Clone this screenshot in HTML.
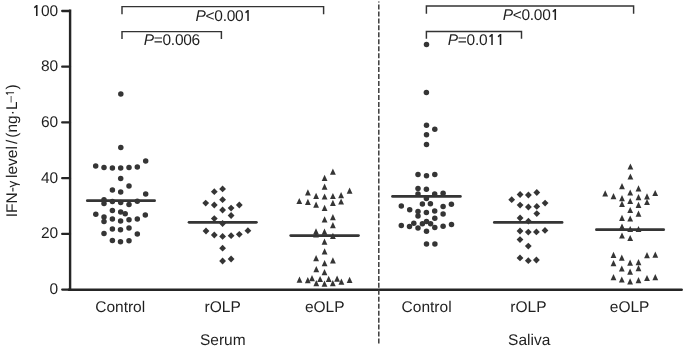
<!DOCTYPE html>
<html><head><meta charset="utf-8"><title>IFN-gamma levels</title>
<style>
html,body{margin:0;padding:0;background:#fff;}
body{width:685px;height:350px;overflow:hidden;}
svg{display:block;}
.t{font-family:"Liberation Sans", Arial, Helvetica, sans-serif;font-size:15.5px;fill:#1f1f1f;text-rendering:geometricPrecision;}
.yt{font-family:"Liberation Sans", Arial, Helvetica, sans-serif;font-size:15.5px;fill:#1f1f1f;text-rendering:geometricPrecision;}
.n1{font-family:"NanumGothic","Liberation Sans",sans-serif;font-size:14.65px;font-weight:bold;}
</style></head><body>
<svg width="685" height="350" viewBox="0 0 685 350" fill="#353535">
<line x1="70.1" y1="9.6" x2="70.1" y2="290.6" stroke="#252525" stroke-width="2.4"/>
<line x1="68.9" y1="289.7" x2="681.7" y2="289.7" stroke="#252525" stroke-width="2.5" stroke-linecap="round"/>
<line x1="62.2" y1="289.6" x2="70" y2="289.6" stroke="#252525" stroke-width="2.3" stroke-linecap="round"/>
<line x1="62.2" y1="233.88" x2="70" y2="233.88" stroke="#252525" stroke-width="2.3" stroke-linecap="round"/>
<line x1="62.2" y1="178.16" x2="70" y2="178.16" stroke="#252525" stroke-width="2.3" stroke-linecap="round"/>
<line x1="62.2" y1="122.44" x2="70" y2="122.44" stroke="#252525" stroke-width="2.3" stroke-linecap="round"/>
<line x1="62.2" y1="66.72" x2="70" y2="66.72" stroke="#252525" stroke-width="2.3" stroke-linecap="round"/>
<line x1="62.2" y1="11" x2="70" y2="11" stroke="#252525" stroke-width="2.3" stroke-linecap="round"/>
<text transform="translate(58.2,294.15)" text-anchor="end" class="t">0</text>
<text transform="translate(58.2,238.43)" text-anchor="end" class="t">20</text>
<text transform="translate(58.2,182.71)" text-anchor="end" class="t">40</text>
<text transform="translate(58.2,126.99)" text-anchor="end" class="t">60</text>
<text transform="translate(58.2,71.27)" text-anchor="end" class="t">80</text>
<text transform="translate(58.2,15.55)" text-anchor="end" class="t"><tspan class="n1">1</tspan>00</text>
<line x1="378.8" y1="1.6" x2="378.8" y2="345" stroke="#3c3c3c" stroke-width="1.5" stroke-dasharray="5 1.96" stroke-dashoffset="4.1"/>
<line x1="87.3" y1="200.65" x2="154.6" y2="200.65" stroke="#353535" stroke-width="2.7" stroke-linecap="round"/>
<line x1="189" y1="222.35" x2="256.4" y2="222.35" stroke="#353535" stroke-width="2.7" stroke-linecap="round"/>
<line x1="290.7" y1="235.55" x2="358.5" y2="235.55" stroke="#353535" stroke-width="2.7" stroke-linecap="round"/>
<line x1="392.5" y1="196.45" x2="460.4" y2="196.45" stroke="#353535" stroke-width="2.7" stroke-linecap="round"/>
<line x1="494.3" y1="222.45" x2="562.1" y2="222.45" stroke="#353535" stroke-width="2.7" stroke-linecap="round"/>
<line x1="596.4" y1="229.65" x2="663.7" y2="229.65" stroke="#353535" stroke-width="2.7" stroke-linecap="round"/>
<circle cx="120.8" cy="94" r="2.75"/>
<circle cx="120.8" cy="147.6" r="2.75"/>
<circle cx="145.7" cy="161" r="2.75"/>
<circle cx="95.7" cy="166.1" r="2.75"/>
<circle cx="104" cy="167.4" r="2.75"/>
<circle cx="112.4" cy="167.9" r="2.75"/>
<circle cx="120.7" cy="168.1" r="2.75"/>
<circle cx="129" cy="167.4" r="2.75"/>
<circle cx="137.3" cy="167.1" r="2.75"/>
<circle cx="120.7" cy="178.6" r="2.75"/>
<circle cx="129" cy="186" r="2.75"/>
<circle cx="112.4" cy="189.9" r="2.75"/>
<circle cx="120.7" cy="191.9" r="2.75"/>
<circle cx="145.7" cy="193.9" r="2.75"/>
<circle cx="104" cy="199.8" r="2.75"/>
<circle cx="112.4" cy="201.4" r="2.75"/>
<circle cx="137.3" cy="201.3" r="2.75"/>
<circle cx="120.7" cy="202.6" r="2.75"/>
<circle cx="104" cy="203.4" r="2.75"/>
<circle cx="129" cy="204.4" r="2.75"/>
<circle cx="112.4" cy="210.4" r="2.75"/>
<circle cx="120.7" cy="211.9" r="2.75"/>
<circle cx="125.2" cy="213.7" r="2.75"/>
<circle cx="95.8" cy="214.3" r="2.75"/>
<circle cx="145.3" cy="215" r="2.75"/>
<circle cx="104" cy="216.9" r="2.75"/>
<circle cx="112.4" cy="218.9" r="2.75"/>
<circle cx="137.3" cy="218.9" r="2.75"/>
<circle cx="129" cy="219.8" r="2.75"/>
<circle cx="120.6" cy="221.1" r="2.75"/>
<circle cx="104" cy="221.5" r="2.75"/>
<circle cx="129" cy="227.9" r="2.75"/>
<circle cx="112.4" cy="229" r="2.75"/>
<circle cx="120.5" cy="229.8" r="2.75"/>
<circle cx="104" cy="233.4" r="2.75"/>
<circle cx="137.3" cy="233.9" r="2.75"/>
<circle cx="112.4" cy="240.6" r="2.75"/>
<circle cx="120.5" cy="241.7" r="2.75"/>
<circle cx="129" cy="240.8" r="2.75"/>
<circle cx="426.5" cy="44.6" r="2.75"/>
<circle cx="426.4" cy="92.4" r="2.75"/>
<circle cx="426.5" cy="125.3" r="2.75"/>
<circle cx="434.8" cy="129.3" r="2.75"/>
<circle cx="426.5" cy="134.7" r="2.75"/>
<circle cx="426.5" cy="144.4" r="2.75"/>
<circle cx="418" cy="174.4" r="2.75"/>
<circle cx="426.5" cy="175.7" r="2.75"/>
<circle cx="434.8" cy="174.4" r="2.75"/>
<circle cx="418" cy="188.6" r="2.75"/>
<circle cx="426.4" cy="189.3" r="2.75"/>
<circle cx="418" cy="194.1" r="2.75"/>
<circle cx="434.7" cy="194.1" r="2.75"/>
<circle cx="443.1" cy="193.3" r="2.75"/>
<circle cx="426.4" cy="198.4" r="2.75"/>
<circle cx="422.4" cy="204" r="2.75"/>
<circle cx="430.4" cy="203.8" r="2.75"/>
<circle cx="401.3" cy="206.1" r="2.75"/>
<circle cx="443.1" cy="206.4" r="2.75"/>
<circle cx="451.4" cy="204.3" r="2.75"/>
<circle cx="409.7" cy="209.8" r="2.75"/>
<circle cx="418" cy="211.4" r="2.75"/>
<circle cx="426.4" cy="212.4" r="2.75"/>
<circle cx="434.7" cy="211" r="2.75"/>
<circle cx="443.1" cy="214" r="2.75"/>
<circle cx="418" cy="215.9" r="2.75"/>
<circle cx="434.8" cy="218.2" r="2.75"/>
<circle cx="401.3" cy="225.4" r="2.75"/>
<circle cx="409.5" cy="226.5" r="2.75"/>
<circle cx="413.8" cy="223.2" r="2.75"/>
<circle cx="418" cy="227.9" r="2.75"/>
<circle cx="422.4" cy="223.7" r="2.75"/>
<circle cx="426.5" cy="221.5" r="2.75"/>
<circle cx="430.6" cy="223.7" r="2.75"/>
<circle cx="434.8" cy="227.4" r="2.75"/>
<circle cx="443.1" cy="226.2" r="2.75"/>
<circle cx="451.5" cy="224.6" r="2.75"/>
<circle cx="426.5" cy="231.2" r="2.75"/>
<circle cx="426.5" cy="244" r="2.75"/>
<circle cx="434.9" cy="244" r="2.75"/>
<path d="M222.6 185.5L226 188.9L222.6 192.3L219.2 188.9Z"/>
<path d="M214.3 188.3L217.7 191.7L214.3 195.1L210.9 191.7Z"/>
<path d="M222.6 196.3L226 199.7L222.6 203.1L219.2 199.7Z"/>
<path d="M205.7 199.7L209.1 203.1L205.7 206.5L202.3 203.1Z"/>
<path d="M214.3 201.6L217.7 205L214.3 208.4L210.9 205Z"/>
<path d="M239.3 201.6L242.7 205L239.3 208.4L235.9 205Z"/>
<path d="M231.1 204.7L234.5 208.1L231.1 211.5L227.7 208.1Z"/>
<path d="M222.6 206.6L226 210L222.6 213.4L219.2 210Z"/>
<path d="M231.1 212.1L234.5 215.5L231.1 218.9L227.7 215.5Z"/>
<path d="M214.3 215.2L217.7 218.6L214.3 222L210.9 218.6Z"/>
<path d="M222.6 220.1L226 223.5L222.6 226.9L219.2 223.5Z"/>
<path d="M206 227.6L209.4 231L206 234.4L202.6 231Z"/>
<path d="M247.9 227.3L251.3 230.7L247.9 234.1L244.5 230.7Z"/>
<path d="M239.3 230.9L242.7 234.3L239.3 237.7L235.9 234.3Z"/>
<path d="M214.3 231.6L217.7 235L214.3 238.4L210.9 235Z"/>
<path d="M231.1 232.3L234.5 235.7L231.1 239.1L227.7 235.7Z"/>
<path d="M222.6 233L226 236.4L222.6 239.8L219.2 236.4Z"/>
<path d="M222.6 244.8L226 248.2L222.6 251.6L219.2 248.2Z"/>
<path d="M231.1 255.6L234.5 259L231.1 262.4L227.7 259Z"/>
<path d="M222.6 257.6L226 261L222.6 264.4L219.2 261Z"/>
<path d="M536.8 189.1L540.2 192.5L536.8 195.9L533.4 192.5Z"/>
<path d="M520.1 191.1L523.5 194.5L520.1 197.9L516.7 194.5Z"/>
<path d="M528.4 191.6L531.8 195L528.4 198.4L525 195Z"/>
<path d="M511.7 196.3L515.1 199.7L511.7 203.1L508.3 199.7Z"/>
<path d="M545.1 199.7L548.5 203.1L545.1 206.5L541.7 203.1Z"/>
<path d="M520.1 201.7L523.5 205.1L520.1 208.5L516.7 205.1Z"/>
<path d="M536.8 203L540.2 206.4L536.8 209.8L533.4 206.4Z"/>
<path d="M528.4 203.6L531.8 207L528.4 210.4L525 207Z"/>
<path d="M536.8 210.2L540.2 213.6L536.8 217L533.4 213.6Z"/>
<path d="M520.1 214.6L523.5 218L520.1 221.4L516.7 218Z"/>
<path d="M528.4 217.8L531.8 221.2L528.4 224.6L525 221.2Z"/>
<path d="M545 227L548.4 230.4L545 233.8L541.6 230.4Z"/>
<path d="M520 227.6L523.4 231L520 234.4L516.6 231Z"/>
<path d="M536.4 228.5L539.8 231.9L536.4 235.3L533 231.9Z"/>
<path d="M528.3 228.7L531.7 232.1L528.3 235.5L524.9 232.1Z"/>
<path d="M520 236.2L523.4 239.6L520 243L516.6 239.6Z"/>
<path d="M528.3 242.7L531.7 246.1L528.3 249.5L524.9 246.1Z"/>
<path d="M520 254.5L523.4 257.9L520 261.3L516.6 257.9Z"/>
<path d="M536.4 256.6L539.8 260L536.4 263.4L533 260Z"/>
<path d="M528.3 257.3L531.7 260.7L528.3 264.1L524.9 260.7Z"/>
<path d="M332.9 168.5L335.8 174.7L330 174.7Z"/>
<path d="M324.6 174.8L327.5 181L321.7 181Z"/>
<path d="M324.6 183.6L327.5 189.8L321.7 189.8Z"/>
<path d="M349.6 187.6L352.5 193.8L346.7 193.8Z"/>
<path d="M307.9 189.3L310.8 195.5L305 195.5Z"/>
<path d="M316.1 192.7L319 198.9L313.2 198.9Z"/>
<path d="M324.6 193.4L327.5 199.6L321.7 199.6Z"/>
<path d="M332.9 192.9L335.8 199.1L330 199.1Z"/>
<path d="M341.1 192L344 198.2L338.2 198.2Z"/>
<path d="M299.3 197.9L302.2 204.1L296.4 204.1Z"/>
<path d="M307.9 198.8L310.8 205L305 205Z"/>
<path d="M316.1 201.5L319 207.7L313.2 207.7Z"/>
<path d="M332.9 199.8L335.8 206L330 206Z"/>
<path d="M341.1 198.4L344 204.6L338.2 204.6Z"/>
<path d="M324.6 204.8L327.5 211L321.7 211Z"/>
<path d="M332.9 214L335.8 220.2L330 220.2Z"/>
<path d="M324.6 216.2L327.5 222.4L321.7 222.4Z"/>
<path d="M332.9 222L335.8 228.2L330 228.2Z"/>
<path d="M316 228.2L318.9 234.4L313.1 234.4Z"/>
<path d="M316 231.4L318.9 237.6L313.1 237.6Z"/>
<path d="M324.5 228.5L327.4 234.7L321.6 234.7Z"/>
<path d="M332.9 232.7L335.8 238.9L330 238.9Z"/>
<path d="M324.5 238.5L327.4 244.7L321.6 244.7Z"/>
<path d="M324.6 248.3L327.5 254.5L321.7 254.5Z"/>
<path d="M316.1 255L319 261.2L313.2 261.2Z"/>
<path d="M332.9 257.2L335.8 263.4L330 263.4Z"/>
<path d="M324.6 260L327.5 266.2L321.7 266.2Z"/>
<path d="M316.3 266L319.2 272.2L313.4 272.2Z"/>
<path d="M324.5 269L327.4 275.2L321.6 275.2Z"/>
<path d="M299.5 276.6L302.4 282.8L296.6 282.8Z"/>
<path d="M307.8 277L310.7 283.2L304.9 283.2Z"/>
<path d="M312 275L314.9 281.2L309.1 281.2Z"/>
<path d="M320.1 275.9L323 282.1L317.2 282.1Z"/>
<path d="M328.7 275.7L331.6 281.9L325.8 281.9Z"/>
<path d="M337.1 275.5L340 281.7L334.2 281.7Z"/>
<path d="M341.4 278.6L344.3 284.8L338.5 284.8Z"/>
<path d="M349.6 276.8L352.5 283L346.7 283Z"/>
<path d="M316.3 280L319.2 286.2L313.4 286.2Z"/>
<path d="M324.5 280.5L327.4 286.7L321.6 286.7Z"/>
<path d="M332.8 280L335.7 286.2L329.9 286.2Z"/>
<path d="M630.4 163.4L633.3 169.6L627.5 169.6Z"/>
<path d="M630.4 173.4L633.3 179.6L627.5 179.6Z"/>
<path d="M622 183L624.9 189.2L619.1 189.2Z"/>
<path d="M638.5 185.2L641.4 191.4L635.6 191.4Z"/>
<path d="M630.2 189.4L633.1 195.6L627.3 195.6Z"/>
<path d="M605.2 190.2L608.1 196.4L602.3 196.4Z"/>
<path d="M655.2 189.9L658.1 196.1L652.3 196.1Z"/>
<path d="M613.5 193.1L616.4 199.3L610.6 199.3Z"/>
<path d="M647 193.2L649.9 199.4L644.1 199.4Z"/>
<path d="M638.5 194.1L641.4 200.3L635.6 200.3Z"/>
<path d="M622 195.1L624.9 201.3L619.1 201.3Z"/>
<path d="M630.2 197.9L633.1 204.1L627.3 204.1Z"/>
<path d="M647 198.9L649.9 205.1L644.1 205.1Z"/>
<path d="M622 200.7L624.9 206.9L619.1 206.9Z"/>
<path d="M638.5 201.7L641.4 207.9L635.6 207.9Z"/>
<path d="M630.2 206.9L633.1 213.1L627.3 213.1Z"/>
<path d="M638.5 210.6L641.4 216.8L635.6 216.8Z"/>
<path d="M622 214.7L624.9 220.9L619.1 220.9Z"/>
<path d="M630.2 215.4L633.1 221.6L627.3 221.6Z"/>
<path d="M622 223.4L624.9 229.6L619.1 229.6Z"/>
<path d="M630.2 225.9L633.1 232.1L627.3 232.1Z"/>
<path d="M638.5 225.9L641.4 232.1L635.6 232.1Z"/>
<path d="M622 232.4L624.9 238.6L619.1 238.6Z"/>
<path d="M630.2 234.9L633.1 241.1L627.3 241.1Z"/>
<path d="M613.5 251.8L616.4 258L610.6 258Z"/>
<path d="M621.8 254.5L624.7 260.7L618.9 260.7Z"/>
<path d="M647 252.1L649.9 258.3L644.1 258.3Z"/>
<path d="M655.3 251.5L658.2 257.7L652.4 257.7Z"/>
<path d="M613.5 260.1L616.4 266.3L610.6 266.3Z"/>
<path d="M630.1 259.6L633 265.8L627.2 265.8Z"/>
<path d="M638.5 259.1L641.4 265.3L635.6 265.3Z"/>
<path d="M621.8 265.4L624.7 271.6L618.9 271.6Z"/>
<path d="M638.5 265.1L641.4 271.3L635.6 271.3Z"/>
<path d="M630.1 268.6L633 274.8L627.2 274.8Z"/>
<path d="M613.5 274L616.4 280.2L610.6 280.2Z"/>
<path d="M621.8 276.4L624.7 282.6L618.9 282.6Z"/>
<path d="M630.1 278.2L633 284.4L627.2 284.4Z"/>
<path d="M638.5 277.1L641.4 283.3L635.6 283.3Z"/>
<path d="M647 274.9L649.9 281.1L644.1 281.1Z"/>
<path d="M655.3 274L658.2 280.2L652.4 280.2Z"/>
<path d="M122 14.3V6.6H323.6V14.3" fill="none" stroke="#333333" stroke-width="1.45"/>
<path d="M122 39V31.6H221.4V39" fill="none" stroke="#333333" stroke-width="1.45"/>
<path d="M426.4 13.7V5.9H633.6V13.7" fill="none" stroke="#333333" stroke-width="1.45"/>
<path d="M426.4 38.7V31.4H521.5V38.7" fill="none" stroke="#333333" stroke-width="1.45"/>
<text transform="translate(223.7,20.65)" text-anchor="middle" class="t" letter-spacing="-0.3"><tspan font-style="italic">P</tspan>&lt;0.00<tspan class="n1">1</tspan></text>
<text transform="translate(171.8,45.1)" text-anchor="middle" class="t" letter-spacing="-0.3"><tspan font-style="italic">P</tspan>=0.006</text>
<text transform="translate(530.9,19.85)" text-anchor="middle" class="t" letter-spacing="-0.3"><tspan font-style="italic">P</tspan>&lt;0.00<tspan class="n1">1</tspan></text>
<text transform="translate(476.1,45.1)" text-anchor="middle" class="t" letter-spacing="-0.3"><tspan font-style="italic">P</tspan>=0.0<tspan class="n1">1</tspan><tspan class="n1">1</tspan></text>
<text transform="translate(120.2,312.1)" text-anchor="middle" class="t">Control</text>
<text transform="translate(222.7,312.1)" text-anchor="middle" class="t">rOLP</text>
<text transform="translate(324.7,312.1)" text-anchor="middle" class="t">eOLP</text>
<text transform="translate(426.6,312.1)" text-anchor="middle" class="t">Control</text>
<text transform="translate(528.4,312.1)" text-anchor="middle" class="t">rOLP</text>
<text transform="translate(629.6,312.1)" text-anchor="middle" class="t">eOLP</text>
<text transform="translate(222.8,345.1)" text-anchor="middle" class="t">Serum</text>
<text transform="translate(529.2,345.1)" text-anchor="middle" class="t">Saliva</text>
<text transform="translate(17,0) rotate(-90)" class="yt"><tspan x="-217.25">IFN-</tspan><tspan x="-187.6" font-size="13.5">&#947;</tspan><tspan x="-178">level</tspan><tspan x="-143.9">/</tspan><tspan x="-137.7">(ng&#183;L</tspan><tspan x="-102.6" dy="-3.3" font-size="11.5">&#8211;<tspan class="n1" style="font-size:10.87px">1</tspan></tspan><tspan x="-89.6" dy="3.3">)</tspan></text>
</svg>
</body></html>
